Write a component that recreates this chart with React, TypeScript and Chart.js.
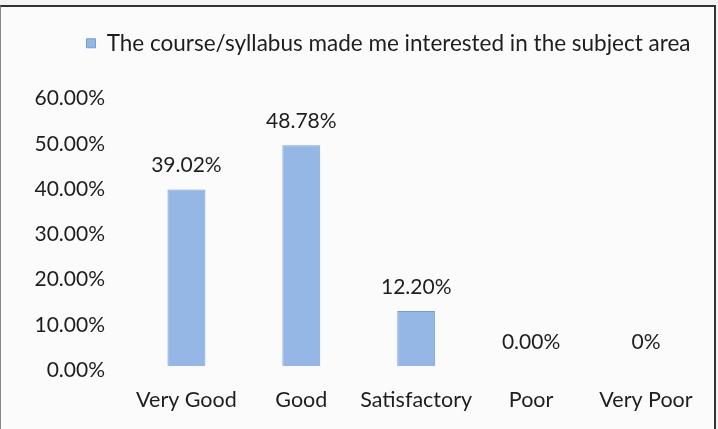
import React, { useEffect, useRef } from "react";
import { Chart, registerables } from "chart.js";

Chart.register(...registerables);

const categories = ["Very Good", "Good", "Satisfactory", "Poor", "Very Poor"];
const values = [39.02, 48.78, 12.2, 0, 0];
const valueLabels = ["39.02%", "48.78%", "12.20%", "0.00%", "0%"];
const seriesName = "The course/syllabus made me interested in the subject area";

const FONT = "Lato, 'Open Sans', sans-serif";
const TEXT = "#1e1e1e";

const dataLabelPlugin = {
  id: "dataLabels",
  afterDatasetsDraw(chart: any) {
    const ctx = chart.ctx;
    const meta = chart.getDatasetMeta(0);
    ctx.save();
    ctx.font = `21px ${FONT}`;
    ctx.fillStyle = TEXT;
    ctx.textAlign = "center";
    ctx.textBaseline = "middle";
    meta.data.forEach((bar: any, i: number) => {
      ctx.fillText(valueLabels[i], bar.x, bar.y - 24);
    });
    ctx.restore();
  },
};

const legendSpacer = {
  id: "legendSpacer",
  beforeInit(chart: any) {
    const legend = chart.legend;
    if (!legend) return;
    const orig = legend.fit.bind(legend);
    legend.fit = function () {
      orig();
      this.height += 30;
    };
  },
  afterLayout(chart: any) {
    const legend = chart.legend;
    if (!legend) return;
    legend.left += 33;
    legend.right += 33;
  },
};

export default function App() {
  const ref = useRef<HTMLCanvasElement | null>(null);
  useEffect(() => {
    if (!ref.current) return;
    const chart = new Chart(ref.current, {
      type: "bar",
      data: {
        labels: categories,
        datasets: [
          {
            label: seriesName,
            data: values,
            backgroundColor: "#94b7e5",
            borderColor: "#6f9edb",
            borderWidth: 1,
            categoryPercentage: 1,
            barPercentage: 0.33,
          },
        ],
      },
      options: {
        animation: false,
        responsive: false,
        maintainAspectRatio: false,
        layout: { padding: { top: 7, right: 4, bottom: 0, left: 0 } },
        plugins: {
          legend: {
            position: "top",
            labels: {
              font: { family: FONT, size: 22.5 },
              color: TEXT,
              boxWidth: 9,
              boxHeight: 9,
              padding: 18,
            },
          },
          tooltip: { enabled: false },
        },
        scales: {
          x: {
            grid: { display: false, drawTicks: false },
            border: { display: false },
            ticks: {
              font: { family: FONT, size: 21.5 },
              color: TEXT,
              padding: 21,
              maxRotation: 0,
              minRotation: 0,
              autoSkip: false,
            },
          },
          y: {
            min: 0,
            max: 60,
            grid: { display: false, drawTicks: false },
            border: { display: false },
            afterFit: (scale: any) => {
              scale.width = 128;
            },
            ticks: {
              stepSize: 10,
              font: { family: FONT, size: 21 },
              color: TEXT,
              padding: 24,
              labelOffset: 4,
              callback: (v: any) => Number(v).toFixed(2) + "%",
            },
          },
        },
      },
      plugins: [dataLabelPlugin, legendSpacer],
    });
    return () => chart.destroy();
  }, []);

  return (
    <div
      style={{
        position: "fixed",
        left: 0,
        top: 0,
        width: 718,
        height: 429,
        background: "#f4f4f4",
        overflow: "hidden",
      }}
    >
      <div
        style={{
          position: "absolute",
          left: 0,
          top: 5,
          width: 716,
          height: 430,
          borderTop: "2px solid #333",
          borderRight: "2px solid #333",
          borderLeft: "1px solid #888",
          background: "#fbfbfb",
          boxSizing: "border-box",
        }}
      >
        <canvas ref={ref} width={713} height={427} style={{ display: "block" }} />
      </div>
    </div>
  );
}
